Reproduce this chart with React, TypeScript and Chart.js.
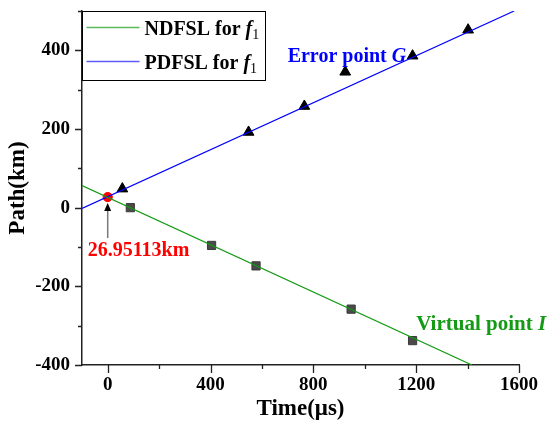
import React, { useEffect, useRef } from 'react';
import { Chart, registerables } from 'chart.js';

Chart.register(...registerables);

// ---- data ----
const ndfslLineX = [-100, 1417];
const ndfslLineY = [56, -400];
const pdfslLineX = [-100, 1581];
const pdfslLineY = [-1.8, 500];
const virtualX = [88, 404, 577, 947, 1186];
const virtualY = [0, -96, -148, -258, -338];
const errorX = [57, 548, 765, 924, 1186, 1402];
const errorY = [48, 192, 258, 345, 386, 452];
const crossX = [0];
const crossY = [26.95113];
const crossLabel = '26.95113km';

const xMajor = [0, 400, 800, 1200, 1600];
const xMinor = [200, 600, 1000, 1400];
const yMajor = [-400, -200, 0, 200, 400];
const yMinor = [-300, -100, 100, 300, 500];

const GREEN = '#149a14';
const BLUE = '#0000ff';
const RED = '#ff0000';
const LEG_GREEN = '#5cb85c';
const LEG_BLUE = '#5c5cff';
const FONT = '"Liberation Serif", "Times New Roman", serif';

function pts(xs: number[], ys: number[]) {
  return xs.map((x, i) => ({ x, y: ys[i] }));
}

type Part = { text: string; font: string; color: string; dy?: number };
function drawRich(ctx: CanvasRenderingContext2D, x: number, y: number, parts: Part[]) {
  let cx = x;
  for (const p of parts) {
    ctx.font = p.font;
    ctx.fillStyle = p.color;
    ctx.fillText(p.text, cx, y + (p.dy || 0));
    cx += ctx.measureText(p.text).width;
  }
}

const overlay = {
  id: 'overlay',
  afterDraw(chart: any) {
    const ctx: CanvasRenderingContext2D = chart.ctx;
    const xs = chart.scales.x;
    const ys = chart.scales.y;
    const ca = chart.chartArea;
    ctx.save();
    // ticks
    ctx.strokeStyle = '#222';
    ctx.lineWidth = 1.3;
    ctx.beginPath();
    for (const v of xMajor) {
      const p = Math.round(xs.getPixelForValue(v)) + 0.5;
      ctx.moveTo(p, ca.bottom);
      ctx.lineTo(p, ca.bottom + 8);
    }
    for (const v of xMinor) {
      const p = Math.round(xs.getPixelForValue(v)) + 0.5;
      ctx.moveTo(p, ca.bottom);
      ctx.lineTo(p, ca.bottom + 4);
    }
    for (const v of yMajor) {
      const p = Math.round(ys.getPixelForValue(v)) + 0.5;
      ctx.moveTo(ca.left, p);
      ctx.lineTo(ca.left - 7, p);
    }
    for (const v of yMinor) {
      const p = Math.round(ys.getPixelForValue(v)) + 0.5;
      ctx.moveTo(ca.left, p);
      ctx.lineTo(ca.left - 4, p);
    }
    ctx.stroke();

    // legend
    const lx = Math.round(ca.left) + 0.5;
    const ly = Math.round(ca.top) + 0.5;
    ctx.fillStyle = '#fff';
    ctx.fillRect(lx, ly, 183, 69);
    ctx.strokeStyle = '#000';
    ctx.lineWidth = 1;
    ctx.strokeRect(lx, ly, 183, 69);
    ctx.lineWidth = 1.6;
    ctx.strokeStyle = LEG_GREEN;
    ctx.beginPath();
    ctx.moveTo(lx + 4, ly + 16);
    ctx.lineTo(lx + 57, ly + 16);
    ctx.stroke();
    ctx.strokeStyle = LEG_BLUE;
    ctx.beginPath();
    ctx.moveTo(lx + 4, ly + 50);
    ctx.lineTo(lx + 57, ly + 50);
    ctx.stroke();
    ctx.textBaseline = 'alphabetic';
    ctx.textAlign = 'left';
    const bold = `bold 20px ${FONT}`;
    const boldIt = `italic bold 20px ${FONT}`;
    const sub = `14px ${FONT}`;
    drawRich(ctx, lx + 62, ly + 23, [
      { text: 'NDFSL for ', font: bold, color: '#000' },
      { text: 'f', font: boldIt, color: '#000' },
      { text: '1', font: sub, color: '#000', dy: 4 },
    ]);
    drawRich(ctx, lx + 62, ly + 57, [
      { text: 'PDFSL for ', font: bold, color: '#000' },
      { text: 'f', font: boldIt, color: '#000' },
      { text: '1', font: sub, color: '#000', dy: 4 },
    ]);

    // annotations
    drawRich(ctx, xs.getPixelForValue(700), ys.getPixelForValue(370), [
      { text: 'Error point ', font: bold, color: BLUE },
      { text: 'G', font: boldIt, color: BLUE },
    ]);
    drawRich(ctx, xs.getPixelForValue(1200), ys.getPixelForValue(-312), [
      { text: 'Virtual point ', font: `bold 21px ${FONT}`, color: GREEN },
      { text: 'I', font: `italic bold 21px ${FONT}`, color: GREEN },
    ]);

    // arrow to intersection
    const px = xs.getPixelForValue(crossX[0]);
    const py = ys.getPixelForValue(crossY[0]);
    ctx.strokeStyle = '#7a7a7a';
    ctx.lineWidth = 1.5;
    ctx.beginPath();
    ctx.moveTo(px, py + 41);
    ctx.lineTo(px, py + 12);
    ctx.stroke();
    ctx.fillStyle = '#000';
    ctx.beginPath();
    ctx.moveTo(px, py + 6);
    ctx.lineTo(px - 3.5, py + 14);
    ctx.lineTo(px + 3.5, py + 14);
    ctx.closePath();
    ctx.fill();
    drawRich(ctx, px - 20, py + 59, [
      { text: crossLabel, font: `bold 20px ${FONT}`, color: RED },
    ]);
    ctx.restore();
  },
};

export default function App() {
  const ref = useRef<HTMLCanvasElement | null>(null);
  useEffect(() => {
    if (!ref.current) return;
    const chart = new Chart(ref.current, {
      type: 'scatter',
      data: {
        datasets: [
          {
            label: 'NDFSL for f1',
            data: pts(ndfslLineX, ndfslLineY),
            showLine: true,
            borderColor: GREEN,
            borderWidth: 1.2,
            pointRadius: 0,
          },
          {
            label: 'PDFSL for f1',
            data: pts(pdfslLineX, pdfslLineY),
            showLine: true,
            borderColor: BLUE,
            borderWidth: 1.2,
            pointRadius: 0,
          },
          {
            label: 'Virtual point I',
            data: pts(virtualX, virtualY),
            pointStyle: 'rect',
            pointRadius: 5.8,
            backgroundColor: '#4a4a4a',
            borderColor: '#3a3a3a',
            borderWidth: 1,
          },
          {
            label: 'Error point G',
            data: pts(errorX, errorY),
            pointStyle: 'triangle',
            pointRadius: 6.2,
            backgroundColor: '#000',
            borderColor: '#000',
            borderWidth: 1,
          },
          {
            label: 'Intersection',
            data: pts(crossX, crossY),
            pointStyle: 'circle',
            pointRadius: 4.6,
            backgroundColor: RED,
            borderColor: RED,
            borderWidth: 1,
          },
        ],
      },
      options: {
        responsive: false,
        animation: false,
        events: [],
        layout: { padding: { left: 0, top: 11, right: 30, bottom: 0 } },
        plugins: { legend: { display: false }, tooltip: { enabled: false } },
        scales: {
          x: {
            type: 'linear',
            min: -100,
            max: 1600,
            afterBuildTicks: (s: any) => {
              s.ticks = xMajor.map((v) => ({ value: v }));
            },
            afterFit: (s: any) => {
              s.height = 77;
              s.paddingLeft = 0;
              s.paddingRight = 0;
              s.paddingTop = 0;
              s.paddingBottom = 0;
            },
            grid: { display: true, drawOnChartArea: false, drawTicks: false },
            border: { display: true, color: '#222', width: 1.5 },
            ticks: {
              padding: 9,
              color: '#000',
              font: { family: FONT, size: 19, weight: 'bold' },
              callback: (v: any) => String(v),
              maxRotation: 0,
            },
            title: {
              display: true,
              text: 'Time(μs)',
              color: '#000',
              font: { family: FONT, size: 23, weight: 'bold' },
              padding: { top: 0, bottom: 19 },
            },
          },
          y: {
            type: 'linear',
            min: -400,
            max: 500,
            afterBuildTicks: (s: any) => {
              s.ticks = yMajor.map((v) => ({ value: v }));
            },
            afterFit: (s: any) => {
              s.width = 82;
              s.paddingLeft = 0;
              s.paddingRight = 0;
              s.paddingTop = 0;
              s.paddingBottom = 0;
            },
            grid: { display: true, drawOnChartArea: false, drawTicks: false },
            border: { display: true, color: '#222', width: 1.5 },
            ticks: {
              padding: 12,
              color: '#000',
              font: { family: FONT, size: 19, weight: 'bold' },
              callback: (v: any) => String(v),
            },
            title: {
              display: true,
              text: 'Path(km)',
              color: '#000',
              font: { family: FONT, size: 23, weight: 'bold' },
              padding: { top: 4, bottom: 0 },
            },
          },
        },
      },
      plugins: [overlay],
    } as any);
    return () => chart.destroy();
  }, []);
  return (
    <div style={{ position: 'absolute', left: 0, top: 0, width: 549, height: 442, background: '#fff' }}>
      <canvas ref={ref} width={549} height={442} style={{ display: 'block' }} />
    </div>
  );
}
